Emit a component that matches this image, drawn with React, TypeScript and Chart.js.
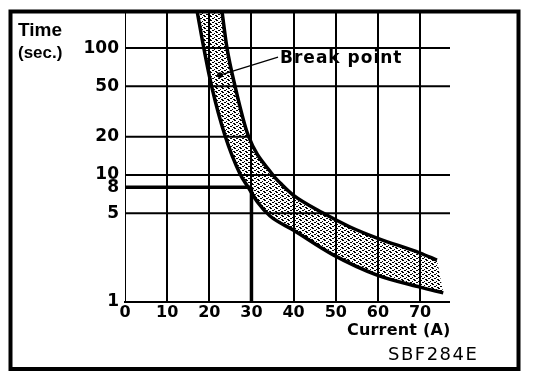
import React, { useEffect, useRef } from 'react';
import { Chart, registerables } from 'chart.js';

Chart.register(...registerables);

// ---- data ----
const xTicks = [0, 10, 20, 30, 40, 50, 60, 70];
const yTicks = [1, 5, 8, 10, 20, 50, 100];
const xMax = 77.1;
const yMin = 1;
const yMax = 196;

const lowerCurrent = [17.1, 18.7, 20.6, 23.7, 27.3, 29.2, 31.6, 34.4, 39.9, 49.4, 59.8, 70.0, 75.5];
const lowerTime = [196, 100, 49.3, 20.6, 10.2, 8.05, 6.02, 4.76, 3.69, 2.35, 1.63, 1.31, 1.18];
const upperCurrent = [23.0, 24.2, 26.1, 29.2, 34.9, 37.3, 39.9, 47.0, 53.4, 59.8, 70.0, 74.0];
const upperTime = [196, 100, 50.2, 20.6, 10.2, 8.34, 6.96, 5.02, 3.9, 3.19, 2.43, 2.14];

// horizontal reference lines: time value, current from, current to
const hLineTime = [100, 50, 20, 10, 5];
const hLineFrom = [0, 0, 0, 0, 0];
const hLineTo = [77.1, 77.1, 29.7, 77.1, 77.1];

const breakCurrent = 30;
const breakTime = 8;

const leaderCurrent = [22.5, 36.3];
const leaderTime = [61.3, 85];

const yTitle = ['Time', '(sec.)'];
const xTitle = 'Current (A)';
const noteLabel = 'Break point';
const figCode = 'SBF284E';

function pts(xs: number[], ys: number[]) {
  return xs.map((x, i) => ({ x, y: ys[i] }));
}

function makeStipple(): CanvasPattern | string {
  const c = document.createElement('canvas');
  c.width = 6;
  c.height = 4;
  const g = c.getContext('2d');
  if (!g) return 'rgba(0,0,0,0.3)';
  const on = [
    [0, 0], [1, 0],
    [4, 1],
    [2, 2], [3, 2],
    [0, 3], [5, 3],
  ];
  g.fillStyle = '#000';
  on.forEach(([x, y]) => g.fillRect(x, y, 1, 1));
  const p = g.createPattern(c, 'repeat');
  return p || 'rgba(0,0,0,0.3)';
}

const numFont = { family: '"DejaVu Sans", sans-serif', weight: 'bold' as const };

export default function App() {
  const ref = useRef<HTMLCanvasElement>(null);

  useEffect(() => {
    if (!ref.current) return;
    const stipple = makeStipple();

    const bandPlugin = {
      id: 'band',
      beforeDatasetsDraw(chart: any) {
        const ctx = chart.ctx;
        const a = chart.chartArea;
        const m0 = chart.getDatasetMeta(0);
        const m1 = chart.getDatasetMeta(1);
        m0.dataset.updateControlPoints(a, 'x');
        m1.dataset.updateControlPoints(a, 'x');
        const L = m0.data;
        const R = m1.data;
        ctx.save();
        ctx.beginPath();
        ctx.rect(a.left, a.top, a.right - a.left, a.bottom - a.top);
        ctx.clip();
        ctx.beginPath();
        ctx.moveTo(L[0].x, L[0].y);
        for (let i = 1; i < L.length; i++) {
          const p = L[i - 1];
          const q = L[i];
          ctx.bezierCurveTo(p.cp2x, p.cp2y, q.cp1x, q.cp1y, q.x, q.y);
        }
        ctx.lineTo(R[R.length - 1].x, R[R.length - 1].y);
        for (let i = R.length - 1; i > 0; i--) {
          const p = R[i];
          const q = R[i - 1];
          ctx.bezierCurveTo(p.cp1x, p.cp1y, q.cp2x, q.cp2y, q.x, q.y);
        }
        ctx.closePath();
        ctx.fillStyle = stipple;
        ctx.fill();
        ctx.restore();
      },
    };

    const decorPlugin = {
      id: 'decor',
      afterDraw(chart: any) {
        const ctx = chart.ctx;
        ctx.save();
        ctx.fillStyle = '#000';
        ctx.textBaseline = 'alphabetic';
        ctx.textAlign = 'left';
        ctx.font = 'bold 19px "Liberation Sans", Arial, sans-serif';
        ctx.fillText(yTitle[0], 18, 36);
        ctx.font = 'bold 17px "Liberation Sans", Arial, sans-serif';
        ctx.fillText(yTitle[1], 18, 58);

        const xs = chart.scales.x;
        const ys = chart.scales.y;
        ctx.font = 'bold 17px "DejaVu Sans", sans-serif';
        try { (ctx as any).letterSpacing = '1px'; } catch (e) {}
        ctx.fillText(noteLabel, xs.getPixelForValue(leaderCurrent[1]) + 2, ys.getPixelForValue(leaderTime[1]) + 6);
        ctx.font = 'bold 16px "DejaVu Sans", sans-serif';
        try { (ctx as any).letterSpacing = '0.2px'; } catch (e) {}
        ctx.fillText(xTitle, 347, 335);
        ctx.font = '18px "DejaVu Sans", sans-serif';
        try { (ctx as any).letterSpacing = '1.5px'; } catch (e) {}
        ctx.fillText(figCode, 388, 360);
        try { (ctx as any).letterSpacing = '0px'; } catch (e) {}

        ctx.strokeStyle = '#000';
        ctx.lineWidth = 4;
        ctx.strokeRect(10.5, 11.5, 508, 357.5);
        ctx.restore();
      },
    };

    const black = '#000';
    const lineBase = {
      borderColor: black,
      pointRadius: 0,
      fill: false,
      tension: 0,
    };

    const datasets: any[] = [
      {
        ...lineBase,
        data: pts(lowerCurrent, lowerTime),
        borderWidth: 3.5,
        cubicInterpolationMode: 'monotone',
      },
      {
        ...lineBase,
        data: pts(upperCurrent, upperTime),
        borderWidth: 3.5,
        cubicInterpolationMode: 'monotone',
      },
    ];
    hLineTime.forEach((t, i) => {
      datasets.push({
        ...lineBase,
        data: [{ x: hLineFrom[i], y: t }, { x: hLineTo[i], y: t }],
        borderWidth: 2,
        order: 5,
      });
    });
    datasets.push({
      ...lineBase,
      data: [{ x: 0, y: breakTime }, { x: breakCurrent, y: breakTime }],
      borderWidth: 3.5,
      order: 4,
    });
    datasets.push({
      ...lineBase,
      data: [{ x: breakCurrent, y: yMin }, { x: breakCurrent, y: breakTime }],
      borderWidth: 3.5,
      order: 4,
    });
    datasets.push({
      ...lineBase,
      data: pts(leaderCurrent, leaderTime),
      borderWidth: 1.2,
      pointRadius: [2.8, 0],
      pointBackgroundColor: black,
      pointBorderWidth: 0,
      order: 0,
    });

    const chart = new Chart(ref.current, {
      type: 'line',
      data: { datasets },
      options: {
        animation: false,
        responsive: false,
        devicePixelRatio: 1,
        layout: { padding: { left: 0, top: 11, right: 94, bottom: 0 } },
        plugins: {
          legend: { display: false },
          tooltip: { enabled: false },
        },
        scales: {
          x: {
            type: 'linear',
            min: 0,
            max: xMax,
            afterBuildTicks: (s: any) => {
              s.ticks = xTicks.map((v) => ({ value: v }));
            },
            afterFit: (s: any) => {
              s.height = 76;
              s.paddingLeft = 0;
              s.paddingRight = 0;
              s.paddingTop = 0;
              s.paddingBottom = 0;
            },
            ticks: {
              color: black,
              font: { ...numFont, size: 16 },
              padding: 1,
              maxRotation: 0,
              autoSkip: false,
              callback: (v: any) => String(v),
            },
            grid: {
              color: black,
              lineWidth: (c: any) => (c.tick && c.tick.value === 0 ? 0 : 2),
              drawTicks: false,
            },
            border: { display: true, color: black, width: 2 },
          },
          y: {
            type: 'logarithmic',
            min: yMin,
            max: yMax,
            afterBuildTicks: (s: any) => {
              s.ticks = yTicks.map((v) => ({ value: v }));
            },
            afterFit: (s: any) => {
              s.width = 125;
              s.paddingLeft = 0;
              s.paddingRight = 0;
              s.paddingTop = 0;
              s.paddingBottom = 0;
            },
            ticks: {
              color: black,
              font: { ...numFont, size: 17 },
              padding: 6,
              autoSkip: false,
              callback: (v: any) => String(v),
            },
            grid: { display: false, drawTicks: false },
            border: { display: true, color: black, width: 1 },
          },
        },
      },
      plugins: [bandPlugin, decorPlugin],
    });

    return () => chart.destroy();
  }, []);

  return (
    <div style={{ position: 'absolute', left: 0, top: 0, width: 544, height: 378, background: '#fff' }}>
      <canvas ref={ref} width={544} height={378} style={{ display: 'block' }} />
    </div>
  );
}
